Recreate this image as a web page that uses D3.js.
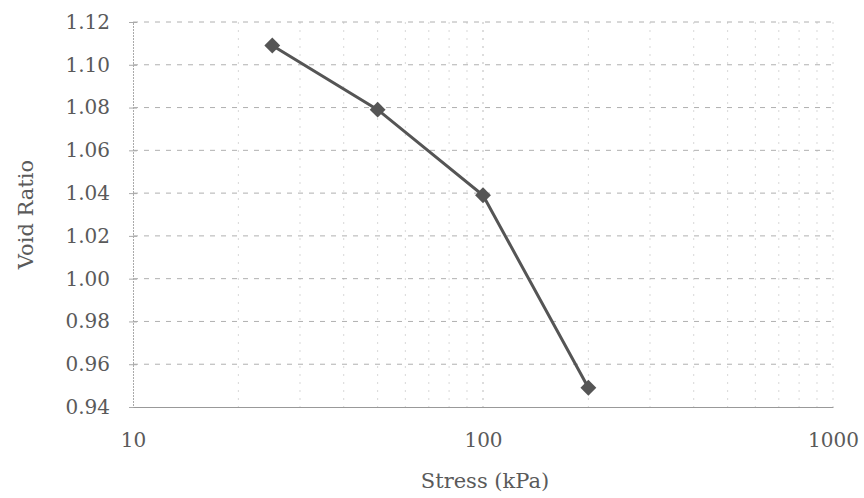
<!DOCTYPE html>
<html lang="en">
<head>
<meta charset="utf-8">
<title>Void Ratio vs Stress</title>
<script src="https://cdn.jsdelivr.net/npm/d3@7/dist/d3.min.js"></script>
<style>
  body { margin: 0; background: #fff; }
  svg text { font-family: "DejaVu Serif", "Liberation Serif", serif; fill: #5a5a5a; font-size: 21px; }
  .tick text { font-size: 20px; }
</style>
</head>
<body>
<script>
// data
const stress = [25, 50, 100, 200]
const voidRatio = [1.109, 1.079, 1.039, 0.949]
const yTicks = [0.94, 0.96, 0.98, 1.00, 1.02, 1.04, 1.06, 1.08, 1.10, 1.12]
const xTicks = [10, 100, 1000]

const w = 864, h = 498
const mLeft = 133, mRight = 833, mTop = 22, mBottom = 407

const svg = d3.select("body").append("svg")
    .attr("width", w)
    .attr("height", h)

const x = d3.scaleLog().domain([10, 1000]).range([mLeft, mRight])
const y = d3.scaleLinear().domain([0.94, 1.12]).range([mBottom, mTop])

// minor log gridlines (vertical, faint)
const minor = []
for (let d = 10; d < 1000; d *= 10)
    for (let k = 2; k <= 10; k++) minor.push(d * k)

svg.append("g").selectAll("line")
    .data(minor)
    .join("line")
    .attr("x1", d => x(d)).attr("x2", d => x(d))
    .attr("y1", mTop).attr("y2", mBottom)
    .attr("stroke", d => d === 100 ? "#bbb" : "#d8d8d8")
    .attr("stroke-width", 1)
    .attr("stroke-dasharray", "2,6")

// horizontal gridlines
svg.append("g").selectAll("line")
    .data(yTicks.slice(1))
    .join("line")
    .attr("x1", mLeft).attr("x2", mRight)
    .attr("y1", d => y(d)).attr("y2", d => y(d))
    .attr("stroke", "#b0b0b0")
    .attr("stroke-width", 1)
    .attr("stroke-dasharray", "5,6")

// axes
const yAxis = d3.axisLeft(y).tickValues(yTicks).tickFormat(d3.format(".2f")).tickSize(4)
const gy = svg.append("g").attr("transform", `translate(${mLeft},0)`).call(yAxis)
gy.select(".domain").attr("stroke", "#aaa").attr("stroke-dasharray", "2,1")
gy.selectAll(".tick line").attr("stroke", "#aaa").attr("x2", 4).attr("x1", -4)
gy.selectAll(".tick text").attr("x", -23)

const xAxis = d3.axisBottom(x).tickValues(xTicks).tickFormat(d3.format("d")).tickSize(0)
const gx = svg.append("g").attr("transform", `translate(0,${mBottom})`).call(xAxis)
gx.select(".domain").attr("stroke", "#999")
gx.selectAll(".tick text").attr("y", 40).attr("dy", 0)

// axis titles
svg.append("text")
    .attr("transform", `translate(33,${(mTop + mBottom) / 2}) rotate(-90)`)
    .attr("text-anchor", "middle")
    .text("Void Ratio")

svg.append("text")
    .attr("x", 485)
    .attr("y", 488)
    .attr("text-anchor", "middle")
    .text("Stress (kPa)")

// series
const pts = stress.map((s, i) => [s, voidRatio[i]])

svg.append("path")
    .datum(pts)
    .attr("fill", "none")
    .attr("stroke", "#555")
    .attr("stroke-width", 3)
    .attr("d", d3.line().x(d => x(d[0])).y(d => y(d[1])))

svg.append("g").selectAll("path")
    .data(pts)
    .join("path")
    .attr("transform", d => `translate(${x(d[0])},${y(d[1])})`)
    .attr("d", d3.symbol(d3.symbolDiamond2, 160))
    .attr("fill", "#555")
</script>
</body>
</html>
